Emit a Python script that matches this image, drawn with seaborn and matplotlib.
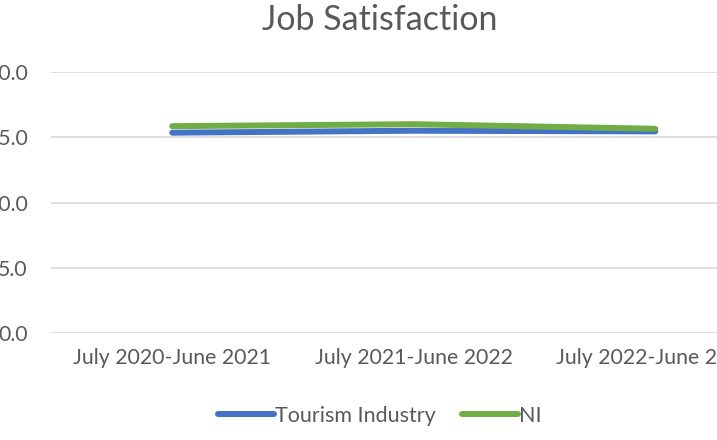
import pandas as pd
import matplotlib
matplotlib.use("Agg")
import matplotlib.pyplot as plt
import seaborn as sns

# Dados
periods = ["July 2020-June 2021", "July 2021-June 2022", "July 2022-June 2023"]
tourism = [15.35, 15.5, 15.45]
ni = [15.85, 16.0, 15.65]
series_names = ["Tourism Industry", "NI"]
y_ticks = [0, 5, 10, 15, 20]

df = pd.DataFrame({
    "period": periods * 2,
    "value": tourism + ni,
    "series": [series_names[0]] * 3 + [series_names[1]] * 3,
})

sns.set_style("white")
plt.rcParams["font.family"] = ["Lato", "DejaVu Sans"]
text_color = "#595959"

fig = plt.figure(figsize=(7.17, 4.40), dpi=100)
ax = fig.add_axes([51.5 / 717, 107 / 440, 724.5 / 717, 261 / 440])

sns.lineplot(data=df, x="period", y="value", hue="series",
             palette={"Tourism Industry": "#4472C4", "NI": "#70AD47"},
             linewidth=4.3, sort=False, ax=ax, legend=False,
             solid_capstyle="round")

ax.set_xlim(-0.5, 2.5)
ax.set_ylim(0, 20)
ax.set_yticks(y_ticks)
ax.set_yticklabels([f"{v:.1f}" for v in y_ticks])
ax.grid(axis="y", color="#D9D9D9", linewidth=1.2)
ax.set_axisbelow(True)
for s in ax.spines.values():
    s.set_visible(False)
ax.tick_params(axis="both", length=0, labelsize=15.3, colors=text_color)
ax.tick_params(axis="y", pad=17)
ax.tick_params(axis="x", pad=11)
ax.set_xlabel("")
ax.set_ylabel("")

fig.text(380 / 717, 1 - 20 / 440, "Job Satisfaction", ha="center", va="center",
         fontsize=24.5, color=text_color)

handles = [plt.Line2D([], [], color="#4472C4", linewidth=4.3, solid_capstyle="round"),
           plt.Line2D([], [], color="#70AD47", linewidth=4.3, solid_capstyle="round")]
fig.legend(handles, series_names, loc="center", bbox_to_anchor=(380 / 717, 1 - 416 / 440),
           ncol=2, frameon=False, fontsize=15.5, handlelength=2.6, handletextpad=0.05,
           columnspacing=1.2, labelcolor=text_color)

fig.savefig("out.png", dpi=100)
